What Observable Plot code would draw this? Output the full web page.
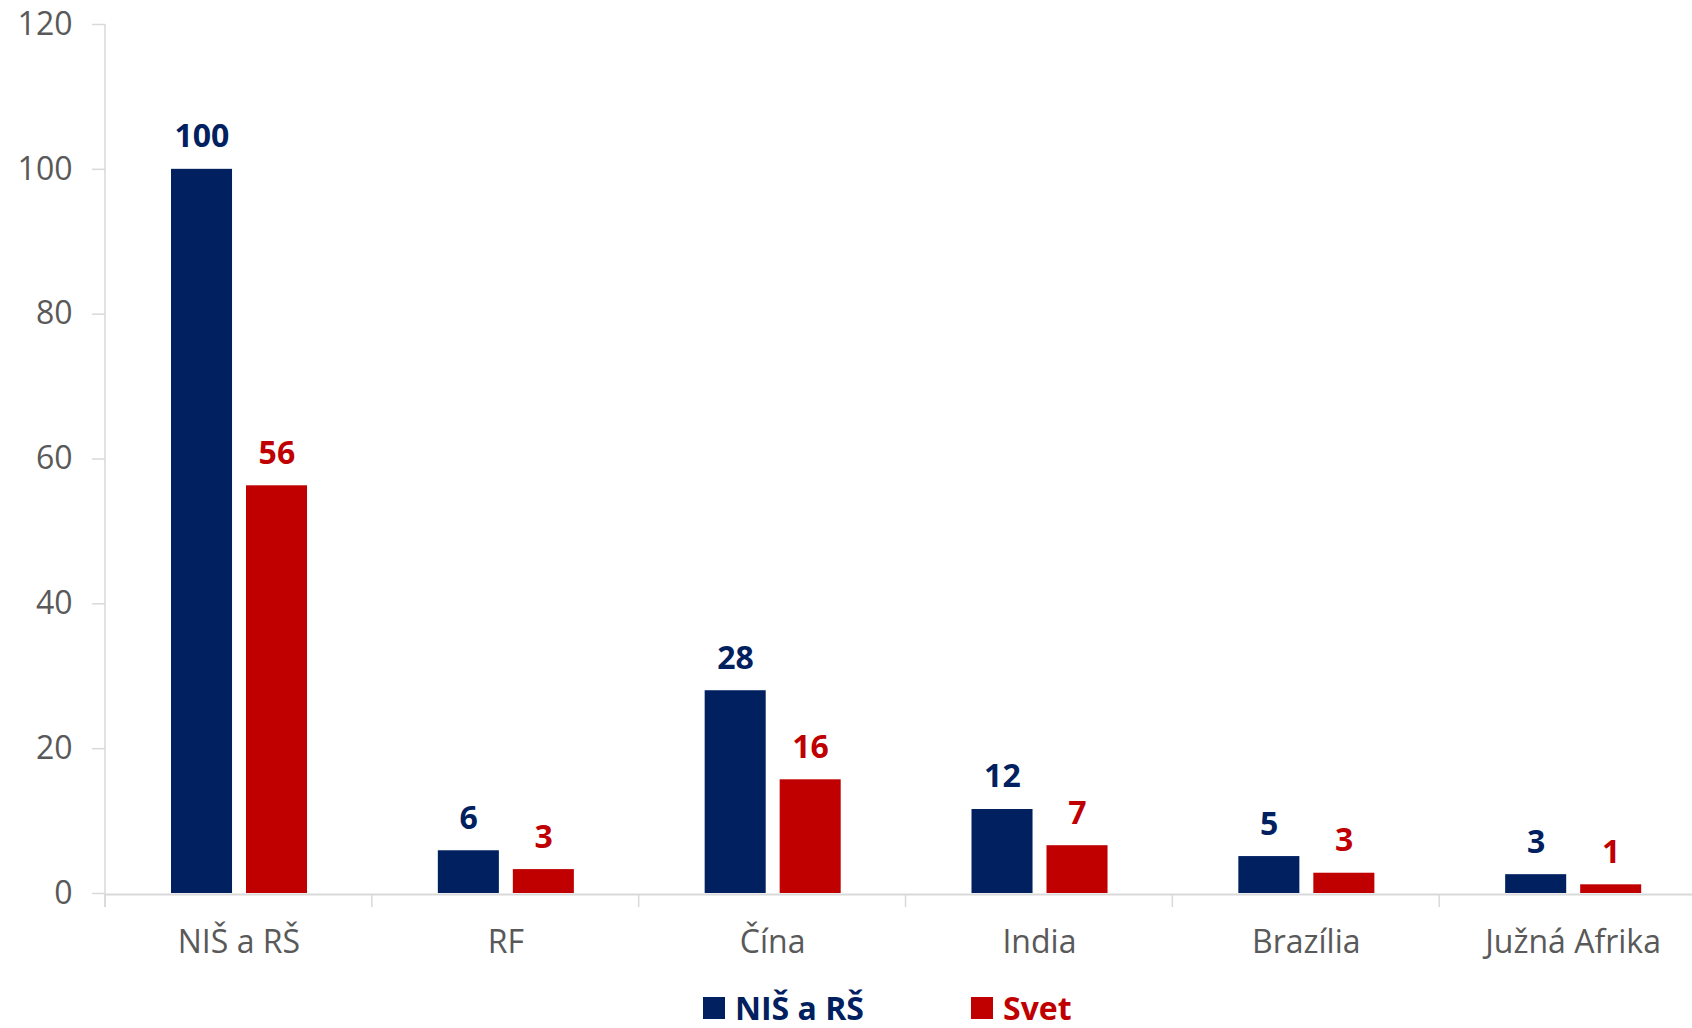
<!DOCTYPE html>
<html>
<head>
<meta charset="utf-8">
<script src="https://cdn.jsdelivr.net/npm/d3@7"></script>
<script src="https://cdn.jsdelivr.net/npm/@observablehq/plot@0.6"></script>
<style>
  html, body { margin: 0; padding: 0; background: #fff; overflow: hidden; }
  body { font-family: "Open Sans", sans-serif; width: 1692px; height: 1028px; }
  #chart svg { display: block; }
  g[aria-label="y-axis tick"] { stroke: #d9d9d9; }
  g[aria-label="y-axis tick label"], g[aria-label="x-axis tick label"] { fill: #595959; }
  #legend { position: relative; height: 53px; font-size: 32px; font-weight: bold; line-height: 36px; }
  .item { position: absolute; top: 15px; display: flex; align-items: center; }
  .sw { width: 22px; height: 22px; margin-right: 10px; }
</style>
</head>
<body>
<div id="chart"></div>
<div id="legend"></div>
<script>
const categories = ["NIŠ a RŠ", "RF", "Čína", "India", "Brazília", "Južná Afrika"];
const seriesNames = ["NIŠ a RŠ", "Svet"];
const seriesColors = ["#002060", "#C00000"];
const nisValues = [100, 5.9, 28.0, 11.6, 5.1, 2.6];
const svetValues = [56.3, 3.3, 15.7, 6.6, 2.8, 1.2];
const yTicks = [0, 20, 40, 60, 80, 100, 120];

const nisData = categories.map((c, i) => ({category: c, value: nisValues[i]}));
const svetData = categories.map((c, i) => ({category: c, value: svetValues[i]}));

const W = 1692, H = 975;
const gray = "#d9d9d9";

const plot = Plot.plot({
  width: W,
  height: H,
  marginLeft: 105,
  marginRight: -14,
  marginTop: 24,
  marginBottom: 82,
  style: {fontFamily: "Open Sans", fontSize: "32px", background: "#fff", overflow: "visible"},
  x: {type: "band", domain: categories, padding: 0, round: false, label: null},
  y: {domain: [0, 120], label: null},
  marks: [
    Plot.barY(nisData, {x: "category", y: "value", fill: seriesColors[0], insetLeft: 66, insetRight: 139.8}),
    Plot.barY(svetData, {x: "category", y: "value", fill: seriesColors[1], insetLeft: 141, insetRight: 64.8}),
    Plot.ruleY([0], {stroke: gray, strokeWidth: 2, dy: 1}),
    Plot.axisY({ticks: yTicks, tickSize: 13, tickPadding: 20, tickFormat: d => d, strokeWidth: 1.5, label: null}),
    Plot.axisX({tickSize: 0, tickPadding: 37, label: null}),
    Plot.text(nisData, {x: "category", y: "value", text: d => String(Math.round(d.value)), dx: -37, dy: -22, lineAnchor: "bottom", fill: seriesColors[0], fontWeight: "bold", fontSize: 32}),
    Plot.text(svetData, {x: "category", y: "value", text: d => String(Math.round(d.value)), dx: 38, dy: -22, lineAnchor: "bottom", fill: seriesColors[1], fontWeight: "bold", fontSize: 32})
  ]
});

document.getElementById("chart").appendChild(plot);

// y axis line and category boundary ticks, placed through Plot's scales
const xs = plot.scale("x"), ys = plot.scale("y");
const svg = d3.select(plot);
const y0 = ys.apply(0) + 1, yTop = ys.apply(120);
const g = svg.append("g").attr("stroke", gray).attr("stroke-width", 1.5);
g.append("line").attr("x1", xs.range[0]).attr("x2", xs.range[0]).attr("y1", yTop).attr("y2", y0 + 13);
categories.forEach(c => {
  const bx = xs.apply(c);
  g.append("line").attr("x1", bx).attr("x2", bx).attr("y1", y0).attr("y2", y0 + 13);
});

// legend
const legend = d3.select("#legend");
const lefts = [703, 971];
seriesNames.forEach((name, i) => {
  const it = legend.append("div").attr("class", "item").style("left", lefts[i] + "px").style("color", seriesColors[i]);
  it.append("div").attr("class", "sw").style("background", seriesColors[i]);
  it.append("span").text(name);
});
</script>
</body>
</html>
